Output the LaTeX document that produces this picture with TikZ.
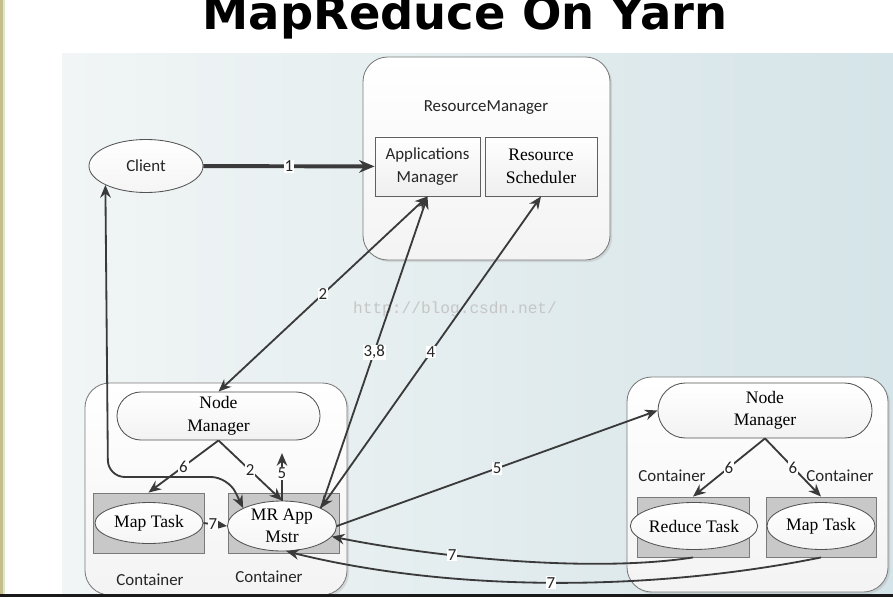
\documentclass[tikz,border=0pt]{standalone}
\usepackage{fontspec}
\setmainfont{Liberation Serif}
\newfontfamily\carlitofont{Carlito}
\newfontfamily\titlefont{DejaVu Sans}
\newfontfamily\wmfont{Liberation Mono}
\usetikzlibrary{arrows.meta, shapes.geometric, shapes.misc, shadows}
\definecolor{panelL}{HTML}{F1F5F5}
\definecolor{panelR}{HTML}{D5E4E8}
\definecolor{linegray}{HTML}{3A3A3A}
\definecolor{slotgray}{HTML}{C8C8C8}
\definecolor{edgegray}{HTML}{7A7A7A}
\definecolor{stripeA}{HTML}{C6BE8A}
\definecolor{stripeB}{HTML}{D8EAC9}
\tikzset{>={Stealth[length=9pt,width=7.5pt]}}
\tikzset{
  conn/.style={draw=linegray, line width=1.3pt},
  num/.style={fill=white, inner sep=0.6pt, text=black!85,
    font=\carlitofont\fontsize{12}{13}\selectfont},
  sans/.style={font=\carlitofont\fontsize{12}{16}\selectfont, text=black!85},
  serif/.style={font=\fontsize{12.5}{16}\selectfont, text=black},
  pod/.style={rectangle, rounded corners=0.62cm, draw=edgegray, line width=0.6pt,
    top color=white, bottom color=gray!9,
    drop shadow={opacity=0.2, shadow xshift=1.5pt, shadow yshift=-1.5pt}},
  box/.style={rectangle, draw=gray!75!black, line width=0.6pt,
    top color=white, bottom color=gray!13, align=center},
  slot/.style={rectangle, draw=edgegray, line width=0.6pt, fill=slotgray},
  oval/.style={ellipse, draw=gray!65!black, line width=0.6pt, inner sep=0pt,
    top color=white, bottom color=gray!8, align=center},
  stadium/.style={rounded rectangle, draw=gray!65!black, line width=0.6pt,
    top color=white, bottom color=gray!10, align=center, inner sep=0pt}
}
\begin{document}
\begin{tikzpicture}[x=0.025cm, y=-0.025cm]
\useasboundingbox (0,0) rectangle (893,597);
\clip (0,0) rectangle (893,597);
% backdrop
\fill[white] (0,0) rectangle (893,597);
\shade[left color=panelL, right color=panelR] (62,54) rectangle (893,594);
\fill[stripeA] (0,0) rectangle (2.5,594);
\fill[stripeB] (2.5,0) rectangle (4.5,594);
\node[anchor=base, inner sep=0pt, font=\titlefont\bfseries\fontsize{33}{36}\selectfont] (title) at (465,30) {MapReduce On Yarn};

% resource manager
\node[pod, minimum width=6.175cm, minimum height=5.075cm] (rm) at (486.5,158.5) {};
\node[sans] (rmlabel) at (486,108) {ResourceManager};
\node[box, sans, minimum width=2.625cm, minimum height=1.475cm] (am) at (427.5,166.5) {Applications\\Manager};
\node[box, serif, minimum width=2.8cm, minimum height=1.475cm] (rs) at (541,166.5) {Resource\\Scheduler};
\node[oval, sans, minimum width=2.85cm, minimum height=1.325cm] (client) at (146,166) {Client};

% left node
\node[pod, minimum width=6.55cm, minimum height=5.3cm] (lbox) at (216,489) {};
\node[stadium, serif, minimum width=5.075cm, minimum height=1.2cm] (nm1) at (218.5,416) {Node\\Manager};
\node[slot, minimum width=2.775cm, minimum height=1.5cm] (c1) at (148.5,523) {};
\node[oval, serif, minimum width=2.7cm, minimum height=1.025cm] (mt1) at (149,523) {Map Task};
\node[slot, minimum width=2.775cm, minimum height=1.5cm] (c2) at (283.5,523) {};
\node[oval, serif, minimum width=2.725cm, minimum height=1.25cm] (mr) at (282,526) {MR App\\Mstr};
\node[sans] (cl1) at (150,580) {Container};
\node[sans] (cl2) at (269,577) {Container};

% right node
\node[pod, minimum width=6.525cm, minimum height=5.375cm] (rbox) at (757.5,484.5) {};
\node[stadium, serif, minimum width=5.35cm, minimum height=1.375cm] (nm2) at (765,410.5) {Node\\Manager};
\node[slot, minimum width=2.8cm, minimum height=1.5cm] (c3) at (693,527) {};
\node[oval, serif, minimum width=2.7cm, minimum height=1.175cm] (rt) at (694,526) {Reduce Task};
\node[slot, minimum width=2.75cm, minimum height=1.5cm] (c4) at (821,527) {};
\node[oval, serif, minimum width=2.7cm, minimum height=1.175cm] (mt2) at (821,526) {Map Task};
\node[sans] (cl3) at (672,476) {Container};
\node[sans] (cl4) at (840,476) {Container};

\node[text=gray!45, font=\wmfont\fontsize{11.5}{12}\selectfont] (wm) at (455,309) {http://blog.csdn.net/};

% connectors
\draw[draw=linegray, line width=2.8pt, -{Stealth[length=11pt,width=9pt]}] (client) -- (am) node[num, pos=0.5] (l1) {1};
\draw[conn, <->] (am.south) -- (nm1.north) node[num, pos=0.5] (l2) {2};
\draw[conn, ->] (mr.north east) -- (am.south) node[num, pos=0.5] (l38) {3,8};
\draw[conn, <->] (mr.north east) -- (rs.south) node[num, pos=0.5] (l4) {4};
\draw[conn, <->, rounded corners=12pt] (client.south west) -- (108,477) -- (228,477) -- (mr.north west);
\draw[conn, ->] (nm1.south) -- (c1.north) node[num, pos=0.5] (l6a) {6};
\draw[conn, ->] (nm1.south) -- (mr.north) node[num, pos=0.5] (l2b) {2};
\draw[conn, ->, shorten >=9pt] (mr.north) -- (mr.north |- nm1.south) node[num, pos=0.45] (l5a) {5};
\draw[conn, ->] (mt1.east) -- (mr.west) node[num, pos=0.4] (l7a) {7};
\draw[conn, ->] (mr.east) -- (nm2.west) node[num, pos=0.5] (l5b) {5};
\draw[conn, ->] (nm2.south) -- (c3.north) node[num, pos=0.5] (l6b) {6};
\draw[conn, ->] (nm2.south) -- (c4.north) node[num, pos=0.5] (l6c) {6};
\draw[conn, ->] (c3.south) .. controls (600,572) and (450,560) .. (mr.-12) node[num, pos=0.68] (l7b) {7};
\draw[conn, ->] (c4.south) .. controls (650,592) and (450,592) .. (mr.-80) node[num, pos=0.5] (l7c) {7};

\fill[black!90] (0,593.5) rectangle (893,597);
\end{tikzpicture}
\end{document}
